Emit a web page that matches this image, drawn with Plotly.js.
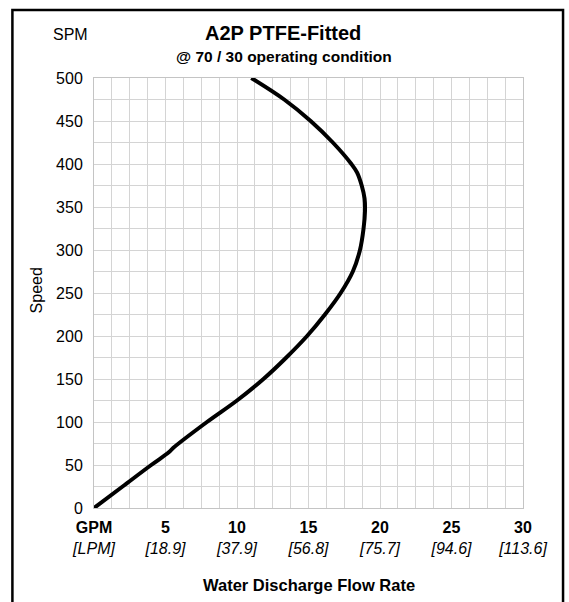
<!DOCTYPE html>
<html>
<head>
<meta charset="utf-8">
<script src="https://cdn.plot.ly/plotly-3.0.1.min.js"></script>
<style>html,body{margin:0;padding:0;background:#fff;}#chart{width:569px;height:602px;}</style>
</head>
<body>
<div id="chart"></div>
<script>
// Flow rate (GPM) and speed (SPM)
const flowGPM = [0, 2.0, 4.0, 5.25, 5.55, 7.9, 10.0, 11.85, 13.45, 14.9, 16.15, 17.25, 18.1, 18.6, 18.85, 18.95, 18.92, 18.72, 18.4, 18.0, 16.7, 15.15, 13.3, 11.0];
const speedSPM = [0, 25, 50, 65, 70, 100, 125, 150, 175, 200, 225, 250, 275, 300, 325, 345, 360, 375, 390, 400, 425, 450, 475, 500];

const xTickVals = [0, 5, 10, 15, 20, 25, 30];
const xTickGPM = ['GPM', '5', '10', '15', '20', '25', '30'];
const xTickLPM = ['[LPM]', '[18.9]', '[37.9]', '[56.8]', '[75.7]', '[94.6]', '[113.6]'];
const yTickVals = [0, 50, 100, 150, 200, 250, 300, 350, 400, 450, 500];

const xTickText = xTickGPM.map((g, i) => '<b>' + g + '</b><br><i>' + xTickLPM[i] + '</i>');

const gridColor = '#d4d4d4';
const font = 'Liberation Sans, Arial, sans-serif';

const trace = {
  x: flowGPM,
  y: speedSPM,
  mode: 'lines',
  line: {color: '#000000', width: 4, shape: 'spline', smoothing: 1.0},
  hoverinfo: 'skip',
  showlegend: false
};

const layout = {
  width: 569,
  height: 602,
  margin: {l: 94, r: 46, t: 78, b: 94},
  paper_bgcolor: '#ffffff',
  plot_bgcolor: '#ffffff',
  font: {family: font, color: '#000000', size: 16},
  xaxis: {
    range: [0, 30],
    tickmode: 'array',
    tickvals: xTickVals,
    ticktext: xTickText,
    showgrid: true,
    gridcolor: gridColor,
    gridwidth: 1,
    zeroline: false,
    showline: true,
    linecolor: '#c4c4c4',
    linewidth: 1,
    mirror: true,
    ticks: 'outside',
    ticklen: 5,
    tickcolor: 'rgba(0,0,0,0)',
    tickfont: {family: font, size: 16, color: '#000000'},
    minor: {tickmode: 'linear', tick0: 0, dtick: 1.25, showgrid: true, gridcolor: gridColor, gridwidth: 1, ticks: ''},
    fixedrange: true
  },
  yaxis: {
    range: [0, 500],
    tickmode: 'array',
    tickvals: yTickVals,
    showgrid: true,
    gridcolor: gridColor,
    gridwidth: 1,
    zeroline: false,
    showline: true,
    linecolor: '#c4c4c4',
    linewidth: 1,
    mirror: true,
    ticks: 'outside',
    ticklen: 7,
    tickcolor: 'rgba(0,0,0,0)',
    tickfont: {family: font, size: 16, color: '#000000'},
    minor: {tickmode: 'linear', tick0: 0, dtick: 25, showgrid: true, gridcolor: gridColor, gridwidth: 1, ticks: ''},
    fixedrange: true
  },
  annotations: [
    {text: '<b>A2P PTFE-Fitted</b>', xref: 'paper', yref: 'paper', x: (283.5 - 94.5) / 428.5, y: (508 - 33) / 430, xanchor: 'center', yanchor: 'middle', showarrow: false, font: {family: font, size: 20, color: '#000'}},
    {text: '<b>@ 70 / 30 operating condition</b>', xref: 'paper', yref: 'paper', x: (284 - 94.5) / 428.5, y: (508 - 56) / 430, xanchor: 'center', yanchor: 'middle', showarrow: false, font: {family: font, size: 15.5, color: '#000'}},
    {text: 'SPM', xref: 'paper', yref: 'paper', x: (71 - 94.5) / 428.5, y: (508 - 35) / 430, xanchor: 'center', yanchor: 'middle', showarrow: false, font: {family: font, size: 16, color: '#000'}},
    {text: 'Speed', xref: 'paper', yref: 'paper', x: (37 - 94.5) / 428.5, y: (508 - 290) / 430, xanchor: 'center', yanchor: 'middle', textangle: -90, showarrow: false, font: {family: font, size: 16, color: '#000'}},
    {text: '<b>Water Discharge Flow Rate</b>', xref: 'paper', yref: 'paper', x: (309 - 94.5) / 428.5, y: (508 - 585) / 430, xanchor: 'center', yanchor: 'middle', showarrow: false, font: {family: font, size: 16.5, color: '#000'}}
  ],
  shapes: [
    {type: 'rect', xref: 'paper', yref: 'paper', x0: (13 - 94.5) / 428.5, x1: (563 - 94.5) / 428.5, y0: (508 - 620) / 430, y1: (508 - 10) / 430, line: {color: '#000000', width: 2.5}, fillcolor: 'rgba(0,0,0,0)', layer: 'below'}
  ]
};

Plotly.newPlot('chart', [trace], layout, {displayModeBar: false, staticPlot: true});
</script>
</body>
</html>
